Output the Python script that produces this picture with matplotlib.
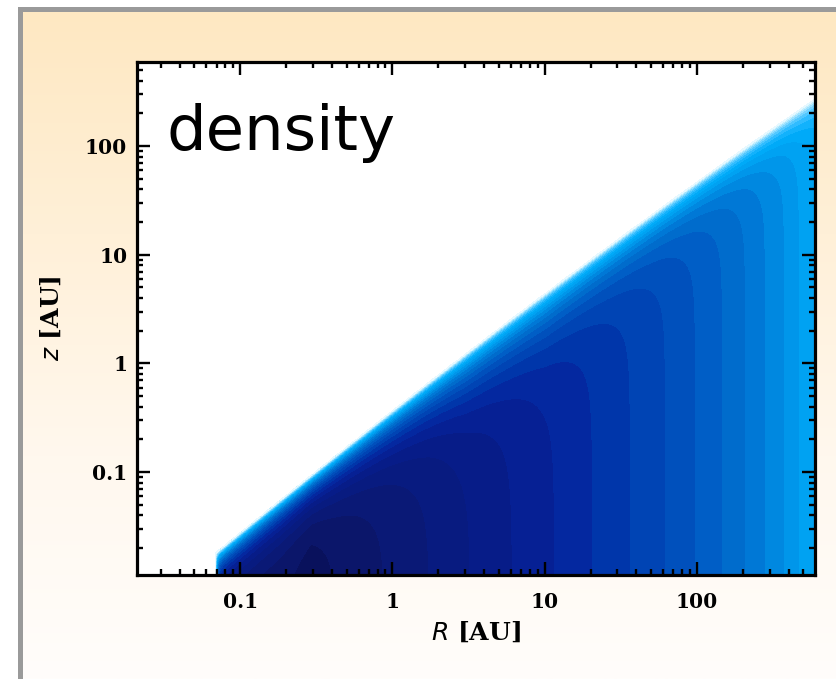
import numpy as np
import matplotlib
matplotlib.use('Agg')
import matplotlib.pyplot as plt
from matplotlib.colors import LinearSegmentedColormap
from matplotlib.patches import Rectangle
from matplotlib.ticker import LogLocator, NullFormatter

MID_R = [0.068, 0.1, 0.184, 0.29, 0.42, 0.885, 1.75, 3.25, 6.13, 11.6, 20.6, 36.5,
         62, 97.6, 147, 208, 281, 375, 470, 600]
MID_BAND = [1.6, 1.3, 1.0, 0.4, 1, 2, 3, 4, 5, 6, 7, 8,
            9, 10, 11, 12, 13, 14, 15, 15.9]
# upper disk surface (where the plot turns white): z/R vs R
EDGE_R = [0.068, 0.11, 0.24, 0.685, 1.4, 3.6, 8.95, 67, 600]
EDGE_ZR = [0.27, 0.28, 0.30, 0.35, 0.405, 0.42, 0.42, 0.47, 0.46]
# how sharply the bands bend over below the surface, vs R
SHAPE_R = [0.068, 0.3, 3, 10, 100, 600]
SHAPE_P = [2.4, 2.3, 1.55, 1.55, 2.3, 2.8]
# one colour per filled band, densest first; the last ones form the fade at the surface
BAND_COLORS = ['#09115c', '#0b166a', '#0a1976', '#081b80', '#071c88', '#062094',
               '#0428a0', '#0036aa', '#0044b4', '#0050bc', '#005ec6', '#006ccc',
               '#0078d6', '#0088e0', '#0096ea', '#00a2f2', '#00aaf8', '#12b2fc',
               '#30bcff', '#52c8ff', '#78d4ff', '#9ee2ff', '#c4effe', '#e6f8ff']

R_INNER = 0.068     # inner rim [AU]
BODY = 0.75         # share of the bands spent in the body, the rest in the surface fade
FADE = 10           # steepness of the surface fade

X_LIM = (0.021, 596)
Y_LIM = (0.0113, 593)
X_TICKS = [0.1, 1, 10, 100]
X_TICK_LABELS = ['0.1', '1', '10', '100']
Y_TICKS = [0.1, 1, 10, 100]
Y_TICK_LABELS = ['0.1', '1', '10', '100']

W, H = 837, 679


def band_index(R, z):
    """Return the (fractional) band number for every grid point."""
    n = len(BAND_COLORS)
    logr = np.log10(R)
    mid = np.interp(logr, np.log10(MID_R), MID_BAND) + 30 * (R_INNER / R) ** 40
    edge_fit = np.polyfit(np.log10(EDGE_R), np.log10(EDGE_ZR), 2)
    z_top = R * 10 ** np.polyval(edge_fit, logr)
    p = np.interp(logr, np.log10(SHAPE_R), SHAPE_P)
    u = np.clip(z / z_top, 0, 1.01)
    rise = BODY * u ** p + (1 - BODY) * u ** FADE
    idx = mid + np.clip(n - mid, 0, None) * rise
    idx[(R < R_INNER) | (u > 1)] = np.nan
    return idx


fig = plt.figure(figsize=(W / 100, H / 100), dpi=100)

# framed, orange-to-white panel background
bg = fig.add_axes([0, 0, 1, 1], zorder=0)
bg.set_xlim(0, W)
bg.set_ylim(H, 0)
bg.axis('off')
grad_cmap = LinearSegmentedColormap.from_list('panel', ['#fee8c2', '#fff0d8', '#fff8ee', '#fffdfb'])
bg.imshow(np.linspace(0, 1, 256)[:, None], extent=(22, W, H, 11), aspect='auto', cmap=grad_cmap)
bg.add_patch(Rectangle((18, 7), W - 18, 5, color='#9a9a9a', lw=0))
bg.add_patch(Rectangle((18, 7), 5, H - 7, color='#9a9a9a', lw=0))

ax = fig.add_axes([137 / W, 1 - 575 / H, (815 - 137) / W, (575 - 62) / H], zorder=1)
ax.set_facecolor('white')

R = np.logspace(np.log10(0.02), np.log10(600), 1000)
z = np.logspace(-2.1, 2.85, 900)
RR, ZZ = np.meshgrid(R, z)
idx = band_index(RR, ZZ)
levels = [-100] + list(range(1, len(BAND_COLORS) + 1))
ax.contourf(RR, ZZ, idx, levels=levels, colors=BAND_COLORS, antialiased=False)

ax.set_xscale('log')
ax.set_yscale('log')
ax.set_xlim(*X_LIM)
ax.set_ylim(*Y_LIM)

tick_font = {'family': 'DejaVu Serif', 'weight': 'bold', 'size': 14.5}
ax.set_xticks(X_TICKS)
ax.set_xticklabels(X_TICK_LABELS, fontdict=tick_font)
ax.set_yticks(Y_TICKS)
ax.set_yticklabels(Y_TICK_LABELS, fontdict=tick_font)
for axis in (ax.xaxis, ax.yaxis):
    axis.set_minor_locator(LogLocator(base=10, subs=np.arange(2, 10)))
    axis.set_minor_formatter(NullFormatter())
ax.tick_params(which='both', direction='in', top=True, right=True, color='black')
ax.tick_params(which='major', length=9.5, width=1.7)
ax.tick_params(which='minor', length=4.5, width=1.7)
ax.tick_params(axis='x', which='major', pad=12)
ax.tick_params(axis='y', which='major', pad=7)
for sp in ax.spines.values():
    sp.set_linewidth(2.3)

plt.rcParams['mathtext.fontset'] = 'custom'
plt.rcParams['mathtext.it'] = 'DejaVu Serif:italic:bold'
label_font = {'family': 'DejaVu Serif', 'weight': 'bold', 'size': 18}
ax.set_xlabel(r'$R$ [AU]', fontdict=label_font)
ax.set_ylabel(r'$z$ [AU]', fontdict=label_font)
ax.xaxis.set_label_coords(0.5, -0.088)
ax.yaxis.set_label_coords(-0.108, 0.5)

ax.text(0.044, 0.828, 'density', transform=ax.transAxes, fontsize=45,
        family='DejaVu Sans', ha='left', va='baseline')

fig.savefig('out.png', dpi=100)
